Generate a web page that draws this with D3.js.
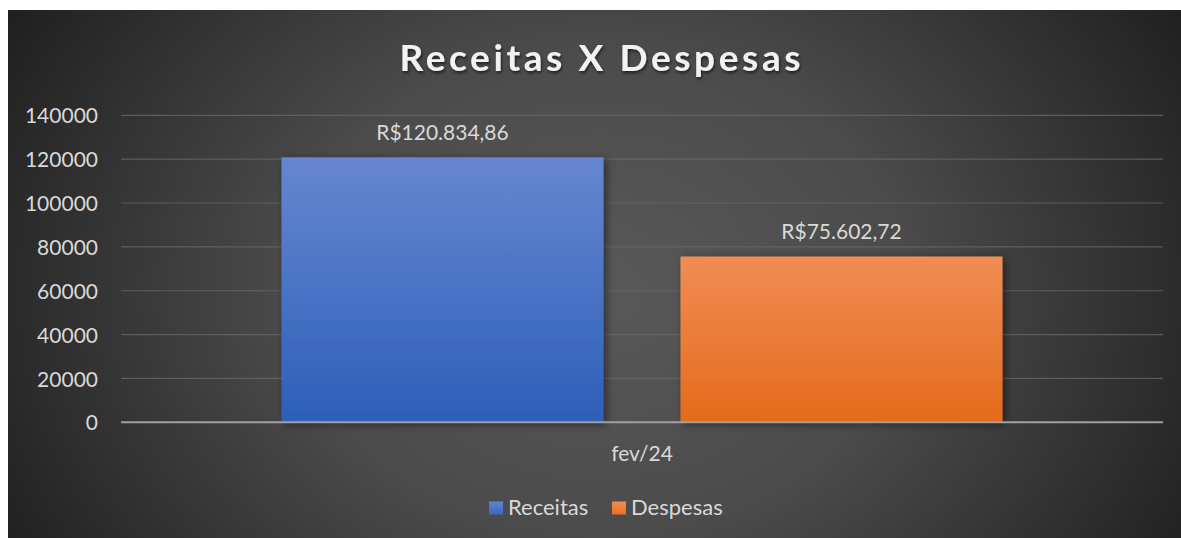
<!DOCTYPE html>
<html>
<head>
<meta charset="utf-8">
<script src="https://cdn.jsdelivr.net/npm/d3@7"></script>
<style>
  html, body { margin: 0; padding: 0; background: #ffffff; }
  svg { display: block; }
</style>
</head>
<body>
<svg id="chart" width="1181" height="538"></svg>
<script>
const categories = ["fev/24"];
const seriesNames = ["Receitas", "Despesas"];
const receitas = [120834.86];
const despesas = [75602.72];
const valueLabels = [["R$120.834,86"], ["R$75.602,72"]];
const yTicks = [0, 20000, 40000, 60000, 80000, 100000, 120000, 140000];
const title = "Receitas X Despesas";

const seriesValues = [receitas, despesas];
const colors = [
  { top: "#6687d0", bottom: "#2d5fb9", legendTop: "#5f85d6", legendBottom: "#3a67c0" },
  { top: "#f18c55", bottom: "#e46b1a", legendTop: "#f38c4e", legendBottom: "#e87222" }
];

const svg = d3.select("#chart");
const defs = svg.append("defs");

// background radial gradient
const bg = defs.append("radialGradient")
  .attr("id", "bgGrad")
  .attr("gradientUnits", "userSpaceOnUse")
  .attr("cx", 600).attr("cy", 290).attr("r", 680)
  .attr("gradientTransform", "translate(600,290) scale(1,0.8) translate(-600,-290)");
bg.append("stop").attr("offset", "0%").attr("stop-color", "#595959");
bg.append("stop").attr("offset", "45%").attr("stop-color", "#4b4b4b");
bg.append("stop").attr("offset", "100%").attr("stop-color", "#202020");

colors.forEach((c, i) => {
  const g = defs.append("linearGradient").attr("id", "barGrad" + i)
    .attr("x1", 0).attr("y1", 0).attr("x2", 0).attr("y2", 1);
  g.append("stop").attr("offset", "0%").attr("stop-color", c.top);
  g.append("stop").attr("offset", "100%").attr("stop-color", c.bottom);
  const lg = defs.append("linearGradient").attr("id", "legGrad" + i)
    .attr("x1", 0).attr("y1", 0).attr("x2", 0).attr("y2", 1);
  lg.append("stop").attr("offset", "0%").attr("stop-color", c.legendTop);
  lg.append("stop").attr("offset", "100%").attr("stop-color", c.legendBottom);
});

const shadow = defs.append("filter").attr("id", "barShadow")
  .attr("x", "-10%").attr("y", "-10%").attr("width", "130%").attr("height", "130%");
shadow.append("feDropShadow").attr("dx", 3).attr("dy", 2).attr("stdDeviation", 4)
  .attr("flood-color", "#000").attr("flood-opacity", 0.45);

const tshadow = defs.append("filter").attr("id", "titleShadow")
  .attr("x", "-10%").attr("y", "-30%").attr("width", "120%").attr("height", "160%");
tshadow.append("feDropShadow").attr("dx", 1).attr("dy", 2).attr("stdDeviation", 1.5)
  .attr("flood-color", "#000").attr("flood-opacity", 0.6);

// chart area
svg.append("rect").attr("x", 8).attr("y", 10).attr("width", 1173).attr("height", 528)
  .attr("fill", "url(#bgGrad)");

const plot = { left: 121, right: 1163, top: 115.3, bottom: 422.3 };
const FONT = "Lato, 'Open Sans', sans-serif";
const textColor = "#d9d9d9";

const y = d3.scaleLinear().domain([0, 140000]).range([plot.bottom, plot.top]);
const x0 = d3.scaleBand().domain(categories).range([plot.left, plot.right])
  .paddingInner(0).paddingOuter(0.2226);
const x1 = d3.scaleBand().domain(seriesNames).range([0, x0.bandwidth()])
  .paddingInner(0.193).paddingOuter(0);

// gridlines
svg.append("g").selectAll("line").data(yTicks.filter(t => t > 0)).join("line")
  .attr("x1", plot.left).attr("x2", plot.right)
  .attr("y1", d => y(d)).attr("y2", d => y(d))
  .attr("stroke", "#6a6a6a").attr("stroke-opacity", 0.75).attr("stroke-width", 1.2);

// y axis labels
const yAxis = d3.axisLeft(y).tickValues(yTicks).tickSize(0).tickPadding(0)
  .tickFormat(d3.format("d"));
const yg = svg.append("g").attr("transform", `translate(98,0)`).call(yAxis);
yg.select(".domain").remove();
yg.selectAll("text").attr("fill", textColor).attr("font-family", FONT)
  .attr("font-size", 21).attr("dy", "0.36em");

// bars
const barGroup = svg.append("g");
categories.forEach((cat, ci) => {
  seriesNames.forEach((s, si) => {
    const v = seriesValues[si][ci];
    const bx = x0(cat) + x1(s);
    barGroup.append("rect")
      .attr("x", bx).attr("y", y(v))
      .attr("width", x1.bandwidth()).attr("height", y(0) - y(v))
      .attr("fill", `url(#barGrad${si})`)
      .attr("filter", "url(#barShadow)");
    svg.append("text")
      .attr("x", bx + x1.bandwidth() / 2).attr("y", y(v) - 17.5)
      .attr("text-anchor", "middle").attr("fill", textColor)
      .attr("font-family", FONT).attr("font-size", 21)
      .text(valueLabels[si][ci]);
  });
});

// x axis baseline
svg.append("line").attr("x1", plot.left).attr("x2", plot.right)
  .attr("y1", y(0)).attr("y2", y(0))
  .attr("stroke", "#a0a0a0").attr("stroke-width", 2);

// x axis labels
const xAxis = d3.axisBottom(x0).tickSize(0).tickPadding(0);
const xg = svg.append("g").attr("transform", `translate(0,${y(0)})`).call(xAxis);
xg.select(".domain").remove();
xg.selectAll("text").attr("fill", textColor).attr("font-family", FONT)
  .attr("font-size", 21).attr("dy", null).attr("y", 38.5);

// title
svg.append("text")
  .attr("x", 600).attr("y", 70.5).attr("text-anchor", "middle")
  .attr("fill", "#f2f2f2").attr("font-family", FONT).attr("font-weight", "bold")
  .attr("font-size", 37).attr("textLength", 401).attr("lengthAdjust", "spacing")
  .attr("filter", "url(#titleShadow)")
  .text(title);

// legend
const legend = svg.append("g");
const legendX = [489, 612];
seriesNames.forEach((s, i) => {
  legend.append("rect").attr("x", legendX[i]).attr("y", 501.5)
    .attr("width", 14).attr("height", 13).attr("fill", `url(#legGrad${i})`);
  legend.append("text").attr("x", legendX[i] + 19).attr("y", 514.5)
    .attr("fill", textColor).attr("font-family", FONT).attr("font-size", 22)
    .text(s);
});
</script>
</body>
</html>
